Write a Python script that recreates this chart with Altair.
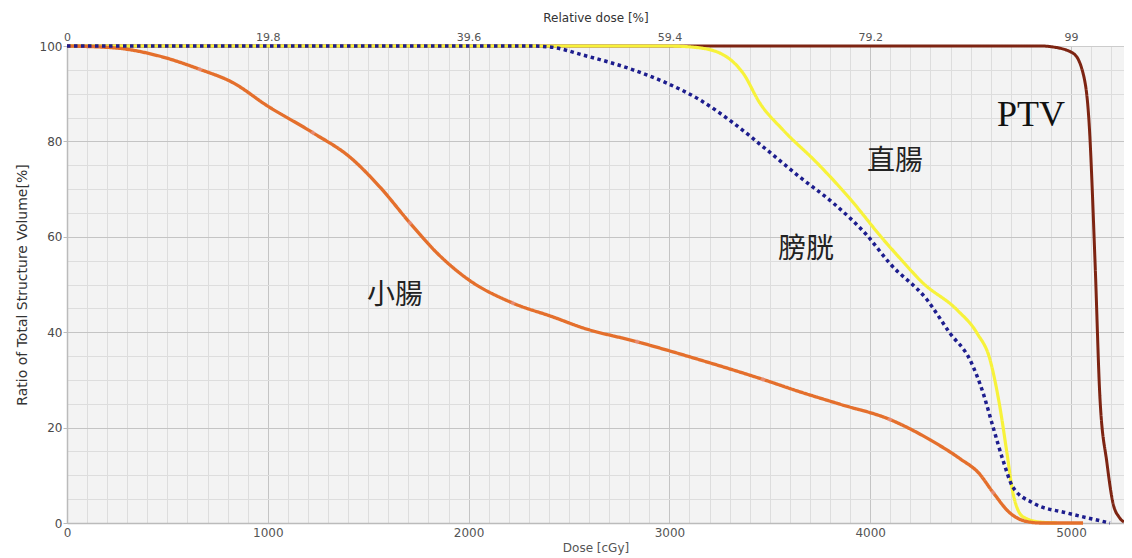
import altair as alt
import pandas as pd

# ---- data (dose in cGy, volume in %) ----
organs = ["PTV", "直腸", "小腸", "膀胱"]

ptv_dose = [0, 4850, 4910, 5010, 5060, 5090, 5120, 5144, 5179, 5209, 5240, 5264]
ptv_vol = [100, 100, 99.8, 98.5, 94.3, 84, 54.5, 26.4, 12.6, 4.2, 1.2, 0.2]

rectum_dose = [0, 3000, 3152, 3286, 3367, 3451, 3566, 3735, 3899, 4064, 4148, 4263,
               4432, 4532, 4597, 4646, 4681, 4711, 4761, 4846, 4930]
rectum_vol = [100, 100, 99.6, 97.7, 94.3, 88, 82.4, 75.5, 68, 59.5, 55.5, 50.3,
              44.7, 39.8, 34.2, 24.3, 14.7, 6.3, 1.3, 0.2, 0]

bowel_dose = [0, 240, 450, 662, 827, 996, 1225, 1409, 1559, 1708, 1843, 2000, 2215,
              2420, 2570, 2839, 3152, 3466, 3650, 3850, 4098, 4300, 4450, 4540, 4612,
              4696, 4781, 4850, 5060]
bowel_vol = [100, 99.6, 98, 95.1, 92.3, 87.5, 81.8, 76.7, 70.4, 62.9, 56.6, 51, 46.2,
             43.2, 40.9, 38, 34.2, 30.1, 27.5, 24.9, 21.7, 17.4, 13.4, 10.5, 6.4,
             2.1, 0.3, 0, 0]

bladder_dose = [0, 2300, 2405, 2570, 2819, 2988, 3152, 3317, 3486, 3650, 3815, 3984,
                4098, 4283, 4397, 4497, 4562, 4612, 4661, 4711, 4811, 4980, 5100, 5194]
bladder_vol = [100, 100, 99.8, 98.1, 95, 92.2, 88.7, 83.9, 78.2, 72.5, 67.1, 60.3,
               54.4, 46.8, 39.8, 34.2, 27.3, 20.1, 13.2, 7.5, 4.2, 2.1, 0.9, 0]

marker_dose = [662, 1225, 1708, 2221, 2839, 3466, 4098, 4612]
marker_vol = [95.1, 81.8, 62.9, 46.1, 38, 30.1, 21.7, 6.4]

label_text = ["小腸", "膀胱", "直腸"]
label_dose = [1633, 3680, 4124]
label_vol = [47.6, 57.2, 75.7]
ptv_label_dose = [4801]
ptv_label_vol = [85.5]

x_major = [0, 1000, 2000, 3000, 4000, 5000]
x_minor = list(range(0, 5300, 100))
y_major = [0, 20, 40, 60, 80, 100]
y_minor = list(range(0, 101, 5))

# ---- tables ----
rows = []
for name, ds, vs in [("PTV", ptv_dose, ptv_vol), ("直腸", rectum_dose, rectum_vol),
                     ("小腸", bowel_dose, bowel_vol), ("膀胱", bladder_dose, bladder_vol)]:
    for i, (d, v) in enumerate(zip(ds, vs)):
        rows.append({"organ": name, "dose": d, "vol": v, "i": i})
df = pd.DataFrame(rows)
df_mark = pd.DataFrame({"dose": marker_dose, "vol": marker_vol})
df_lab = pd.DataFrame({"label": label_text, "dose": label_dose, "vol": label_vol})
df_ptv = pd.DataFrame({"label": ["PTV"], "dose": ptv_label_dose, "vol": ptv_label_vol})

X_MAX = 5264
xs = alt.Scale(domain=[0, X_MAX], nice=False, zero=False)
ys = alt.Scale(domain=[0, 100], nice=False)

FONT = "DejaVu Sans"
TXT = "#555555"

minor = alt.Chart(df).mark_line(opacity=0).encode(
    x=alt.X("dose:Q", scale=xs, axis=alt.Axis(
        orient="bottom", values=x_minor, grid=True, gridColor="#dddddd", gridWidth=1,
        labels=False, ticks=False, domain=False, title=None)),
    y=alt.Y("vol:Q", scale=ys, axis=alt.Axis(
        orient="left", values=y_minor, grid=True, gridColor="#dddddd", gridWidth=1,
        labels=False, ticks=False, domain=False, title=None)),
    detail="organ:N",
)

lines = alt.Chart(df).mark_line(interpolate="monotone").encode(
    x=alt.X("dose:Q", scale=xs, axis=alt.Axis(
        orient="bottom", values=x_major, format="d", grid=True, gridColor="#c4c4c4",
        gridWidth=1, labelFont=FONT, labelFontSize=12, labelColor=TXT, labelPadding=4,
        labelFlush=False,
        ticks=False, domain=True, domainColor="#bbbbbb", domainWidth=1.5,
        title="Dose [cGy]", titleFont=FONT, titleFontSize=12, titleFontWeight="normal",
        titleColor=TXT, titlePadding=4)),
    y=alt.Y("vol:Q", scale=ys, axis=alt.Axis(
        orient="left", values=y_major, grid=True, gridColor="#c4c4c4", gridWidth=1,
        labelFont=FONT, labelFontSize=12, labelColor="#4a4a4a", labelPadding=1,
        labelFlush=False,
        ticks=True, tickSize=4, tickColor="#bbbbbb",
        domain=True, domainColor="#bbbbbb", domainWidth=1.5,
        title="Ratio of Total Structure Volume[%]", titleFont=FONT, titleFontSize=14,
        titleFontWeight="normal", titleColor="#333333", titlePadding=10)),
    color=alt.Color("organ:N", scale=alt.Scale(
        domain=organs, range=["#7d2412", "#f7f23a", "#e46f2c", "#1d1d8e"]), legend=None),
    strokeWidth=alt.StrokeWidth("organ:N", scale=alt.Scale(
        domain=organs, range=[3, 3.5, 3, 3.5]), legend=None),
    strokeDash=alt.StrokeDash("organ:N", scale=alt.Scale(
        domain=organs, range=[[1, 0], [1, 0], [1, 0], [3.5, 3.5]]), legend=None),
    order="i:Q",
)

markers = alt.Chart(df_mark).mark_point(shape="diamond", filled=True, size=30,
                                        color="#e9a0a8", opacity=0.55).encode(
    x=alt.X("dose:Q", scale=xs, axis=None),
    y=alt.Y("vol:Q", scale=ys, axis=None),
)

top = alt.Chart(df).mark_line(opacity=0).encode(
    x=alt.X("dose:Q", scale=xs, axis=alt.Axis(
        orient="top", values=x_major, grid=False, labelFlush=False,
        labelExpr="format(datum.value * 99 / 5000, '.1~f')",
        labelFont=FONT, labelFontSize=11, labelColor=TXT, labelPadding=4,
        ticks=False, domain=True, domainColor="#cccccc", domainWidth=1,
        title="Relative dose [%]", titleFont=FONT, titleFontSize=12,
        titleFontWeight="normal", titleColor="#333333", titlePadding=7)),
    y=alt.Y("vol:Q", scale=ys, axis=None),
    detail="organ:N",
)

cjk = alt.Chart(df_lab).mark_text(font="Noto Sans CJK TC", fontSize=28,
                                  color="#222222").encode(
    x=alt.X("dose:Q", scale=xs, axis=None),
    y=alt.Y("vol:Q", scale=ys, axis=None),
    text="label:N",
)

ptv_txt = alt.Chart(df_ptv).mark_text(font="Liberation Serif", fontSize=36,
                                      color="#111111").encode(
    x=alt.X("dose:Q", scale=xs, axis=None),
    y=alt.Y("vol:Q", scale=ys, axis=None),
    text="label:N",
)

chart = alt.layer(minor, lines, markers, top, cjk, ptv_txt).resolve_axis(
    x="independent", y="independent"
).properties(
    width=1057, height=477,
    autosize=alt.AutoSizeParams(type="none"),
    padding={"left": 59, "top": 38, "right": 0, "bottom": 34},
).configure_view(fill="#f3f3f3", stroke=None)

chart.save("out.html", embed_options={"renderer": "svg", "actions": False})
